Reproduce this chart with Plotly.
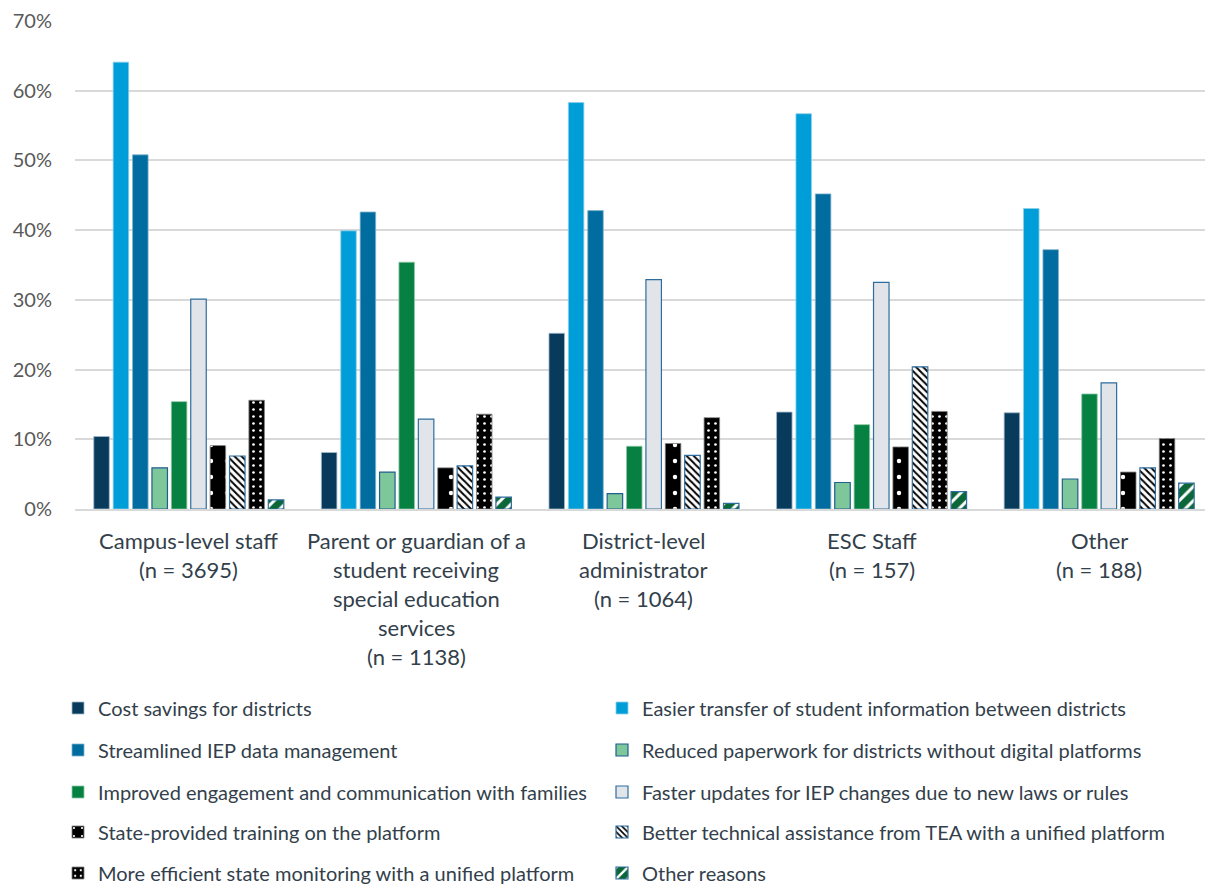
import plotly.graph_objects as go

# Respondent groups (x categories) and their multi-line axis labels
groups = ["Campus", "Parent", "District", "ESC", "Other"]
group_labels = [
    ["Campus-level staff", "(n = 3695)"],
    ["Parent or guardian of a", "student receiving", "special education", "services", "(n = 1138)"],
    ["District-level", "administrator", "(n = 1064)"],
    ["ESC Staff", "(n = 157)"],
    ["Other", "(n = 188)"],
]

# Percent of respondents selecting each benefit, per group
cost_savings = [10.4, 8.1, 25.2, 13.9, 13.8]
easier_transfer = [64.1, 39.9, 58.3, 56.7, 43.1]
streamlined_iep = [50.8, 42.6, 42.8, 45.2, 37.2]
reduced_paperwork = [5.9, 5.3, 2.2, 3.8, 4.3]
improved_engagement = [15.4, 35.4, 9.0, 12.1, 16.5]
faster_updates = [30.1, 12.9, 32.9, 32.5, 18.1]
state_training = [9.1, 5.9, 9.4, 8.9, 5.3]
better_assistance = [7.6, 6.2, 7.7, 20.4, 5.9]
state_monitoring = [15.6, 13.6, 13.1, 14.0, 10.1]
other_reasons = [1.3, 1.7, 0.8, 2.5, 3.7]

y_ticks = [0, 10, 20, 30, 40, 50, 60, 70]

series = [
    ("Cost savings for districts", cost_savings,
     dict(color="#073A5B", line=dict(color="#9FB8CC", width=0.8))),
    ("Easier transfer of student information between districts", easier_transfer,
     dict(color="#009ED8", line=dict(color="#8CCFEA", width=0.8))),
    ("Streamlined IEP data management", streamlined_iep,
     dict(color="#006C9F", line=dict(color="#7FB2CC", width=0.8))),
    ("Reduced paperwork for districts without digital platforms", reduced_paperwork,
     dict(color="#7DC79B", line=dict(color="#1F5E8E", width=1.2))),
    ("Improved engagement and communication with families", improved_engagement,
     dict(color="#068142", line=dict(color="#8CC6A5", width=0.8))),
    ("Faster updates for IEP changes due to new laws or rules", faster_updates,
     dict(color="#E1E5E9", line=dict(color="#2F6D9E", width=1.2))),
    ("State-provided training on the platform", state_training,
     dict(color="#000000", line=dict(color="#7F7F7F", width=0.8),
          pattern=dict(shape=".", fillmode="replace", bgcolor="#000000",
                       fgcolor="#FFFFFF", size=16, solidity=0.06))),
    ("Better technical assistance from TEA with a unified platform", better_assistance,
     dict(color="#FFFFFF", line=dict(color="#2F6D9E", width=1.2),
          pattern=dict(shape="\\", fillmode="replace", bgcolor="#FFFFFF",
                       fgcolor="#000000", size=5, solidity=0.4))),
    ("More efficient state monitoring with a unified platform", state_monitoring,
     dict(color="#000000", line=dict(color="#7F7F7F", width=0.8),
          pattern=dict(shape=".", fillmode="replace", bgcolor="#000000",
                       fgcolor="#FFFFFF", size=7, solidity=0.12))),
    ("Other reasons", other_reasons,
     dict(color="#0B6638", line=dict(color="#2F6D9E", width=1.2),
          pattern=dict(shape="/", fillmode="replace", bgcolor="#0B6638",
                       fgcolor="#FFFFFF", size=10, solidity=0.3))),
]

# Page geometry: plot spans x 75..1205, y 21..509
PAGE_W, PAGE_H = 1208, 886
PLOT_TOP, PLOT_BOTTOM = 21, 509
legend_rows_px = [708, 750, 792, 832, 873]
legend_cols_px = [58, 602]

fig = go.Figure()
for i, (name, vals, marker) in enumerate(series):
    fig.add_trace(go.Bar(
        name=name, x=groups, y=vals, marker=marker,
        legend="legend" if i == 0 else f"legend{i + 1}",
    ))

# One single-entry legend per series, laid out in two columns
legend_font = dict(family="Lato", size=20, color="#333F4B")
layout_legends = {}
for i in range(len(series)):
    key = "legend" if i == 0 else f"legend{i + 1}"
    layout_legends[key] = dict(
        orientation="h", xanchor="left", yanchor="middle",
        xref="container", yref="container",
        x=legend_cols_px[i % 2] / PAGE_W,
        y=1 - legend_rows_px[i // 2] / PAGE_H,
        font=legend_font, bgcolor="rgba(0,0,0,0)", itemclick=False,
    )

# Multi-line category labels under each group
annotations = []
for g, lines in zip(groups, group_labels):
    for j, line in enumerate(lines):
        annotations.append(dict(
            x=g, xref="x", y=0, yref="y", text=line, showarrow=False,
            xanchor="center", yanchor="middle", yshift=-(31 + 29 * j),
            font=dict(family="Lato", size=22, color="#333F4B"),
        ))

fig.update_layout(
    width=PAGE_W, height=PAGE_H,
    margin=dict(l=75, r=3, t=PLOT_TOP, b=PAGE_H - PLOT_BOTTOM, pad=0),
    paper_bgcolor="#FFFFFF", plot_bgcolor="#FFFFFF",
    barmode="group", bargap=0.148, bargroupgap=0.2,
    showlegend=True,
    annotations=annotations,
    **layout_legends,
)
fig.update_xaxes(
    range=[-0.5, 4.465], showticklabels=False, showgrid=False,
    showline=True, linecolor="#D9D9D9", linewidth=2, ticks="", zeroline=False,
)
fig.update_yaxes(
    range=[0, 70], tickvals=y_ticks, ticktext=[f"{v}%" for v in y_ticks],
    showgrid=True, gridcolor="#D9D9D9", gridwidth=1.5, zeroline=False,
    showline=False, ticks="", ticklabelstandoff=22,
    tickfont=dict(family="Lato", size=20, color="#595959"),
)

fig.write_html("out.html")
